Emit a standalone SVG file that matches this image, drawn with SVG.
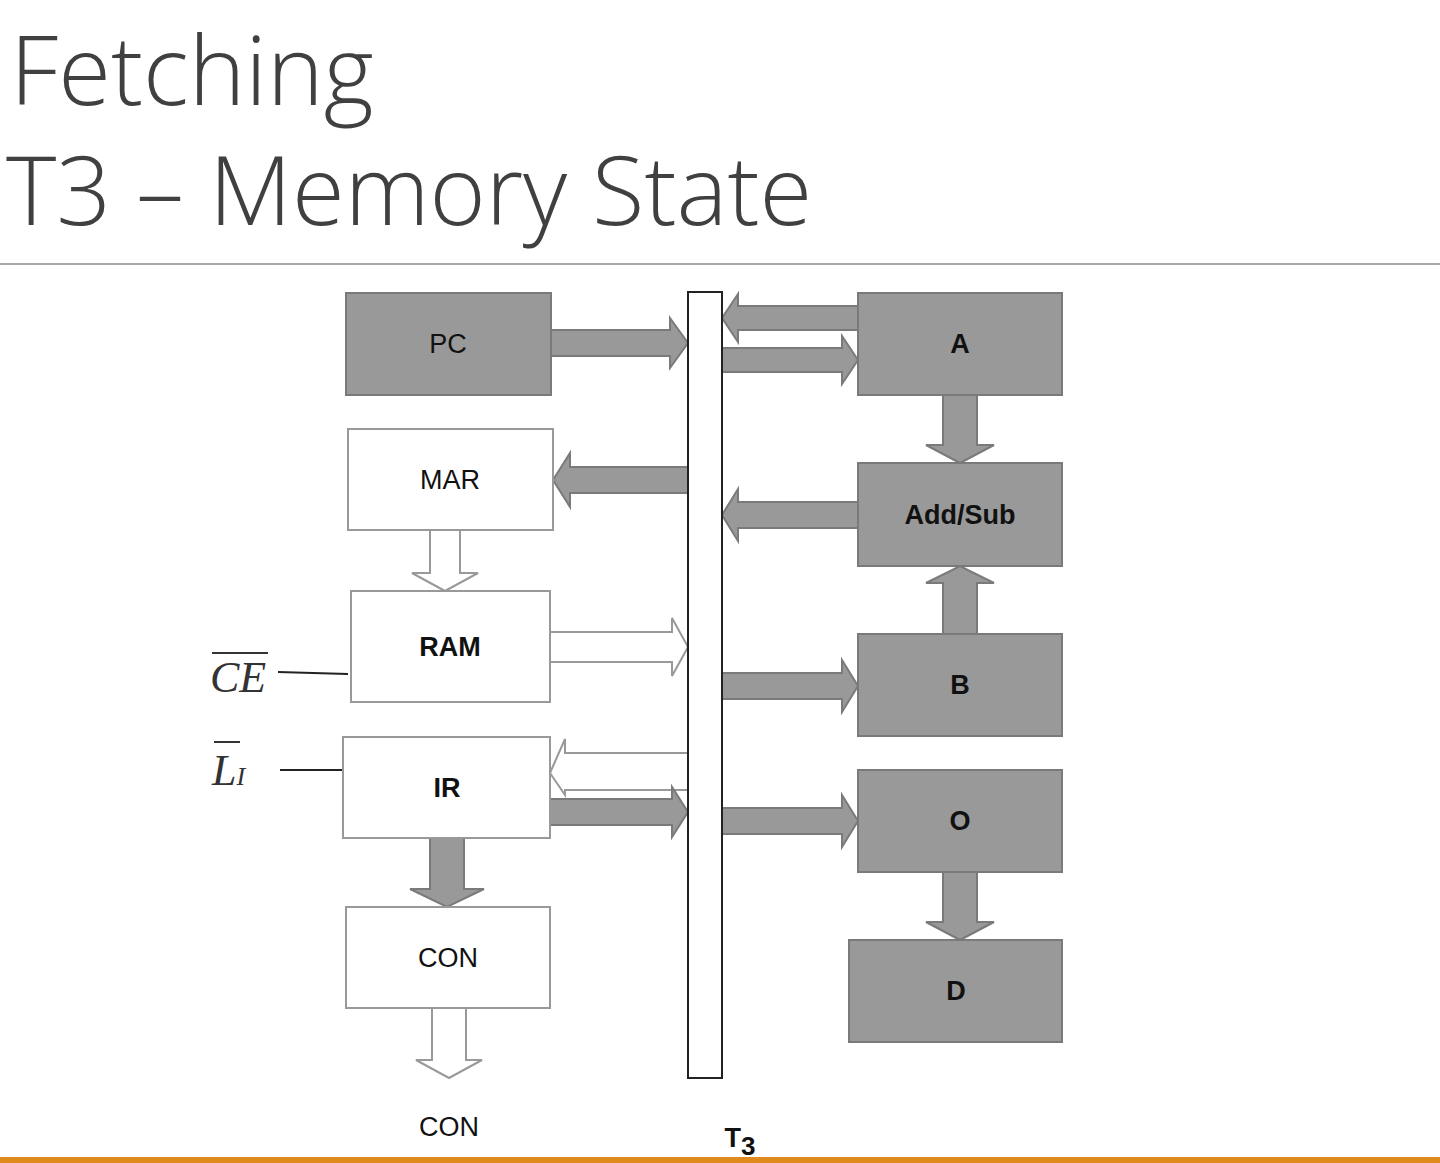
<svg xmlns="http://www.w3.org/2000/svg" width="1440" height="1163" viewBox="0 0 1440 1163">
<style>
.t{font-family:"Open Sans","Noto Sans",sans-serif;font-weight:300;font-size:96px;fill:#404040}
.g{fill:#999;stroke:#7a7a7a;stroke-width:2}
.w{fill:#fff;stroke:#999;stroke-width:2}
.l{font-family:"Liberation Sans",Arial,sans-serif;font-size:27px;text-anchor:middle;fill:#111}
.b{font-weight:bold}
.m{font-family:"Liberation Serif","Times New Roman",serif;font-style:italic;font-size:44px;fill:#333}
</style>
<rect width="1440" height="1163" fill="#fff"/>
<text class="t" x="10" y="105">Fetching</text>
<text class="t" x="6" y="225">T3 – Memory State</text>
<line x1="0" y1="264" x2="1440" y2="264" stroke="#aaa" stroke-width="2"/>
<rect x="0" y="1157" width="1440" height="6" fill="#e08a1e"/>
<g id="connectors">
<path class="g" d="M551,330H670V318L688,343L670,368V356H551Z"/>
<path class="g" d="M858,306H738V294L722,318L738,342V330H858Z"/>
<path class="g" d="M722,348H842V336L858,360L842,384V372H722Z"/>
<path class="g" d="M688,467H570V453L553,480L570,507V493H688Z"/>
<path class="g" d="M858,502H738V489L722,515L738,541V528H858Z"/>
<path class="g" d="M722,673H842V660L858,686L842,712V699H722Z"/>
<path class="g" d="M722,808H842V795L858,821L842,847V834H722Z"/>
<path class="w" d="M550,632H672V618L688,647L672,676V662H550Z"/>
<path class="w" d="M688,753H565V739L550,773L565,795V790H688Z"/>
<path class="g" d="M550,799H672V787L688,812L672,837V825H550Z"/>
<path class="g" d="M943,395V445H926L960,463L994,445H977V395Z"/>
<path class="g" d="M943,634V583H926L960,566L994,583H977V634Z"/>
<path class="g" d="M943,872V922H926L960,940L994,922H977V872Z"/>
<path class="w" d="M430,530V573H412L445,591L478,573H460V530Z"/>
<path class="g" d="M430,838V889H410L447,907L484,889H464V838Z"/>
<path class="w" d="M432,1008V1060H416L449,1078L482,1060H466V1008Z"/>
<line x1="278" y1="672" x2="348" y2="674" stroke="#222" stroke-width="2"/>
<line x1="280" y1="770" x2="348" y2="770" stroke="#222" stroke-width="2"/>
</g>
<g id="bus"><rect x="688" y="292" width="34" height="786" fill="#fff" stroke="#222" stroke-width="2"/>
<text class="l b" x="740" y="1147" font-size="40">T<tspan font-size="26" dy="8">3</tspan></text></g>
<g id="pc"><rect class="g" x="346" y="293" width="205" height="102"/><text class="l" x="448" y="353">PC</text></g>
<g id="mar"><rect class="w" x="348" y="429" width="205" height="101"/><text class="l" x="450" y="489">MAR</text></g>
<g id="ram"><rect class="w" x="351" y="591" width="199" height="111"/><text class="l b" x="450" y="656">RAM</text></g>
<g id="ir"><rect class="w" x="343" y="737" width="207" height="101"/><text class="l b" x="447" y="797">IR</text></g>
<g id="con"><rect class="w" x="346" y="907" width="204" height="101"/><text class="l" x="448" y="967">CON</text></g>
<g id="conout"><text class="l" x="449" y="1136">CON</text></g>
<g id="a"><rect class="g" x="858" y="293" width="204" height="102"/><text class="l b" x="960" y="353">A</text></g>
<g id="addsub"><rect class="g" x="858" y="463" width="204" height="103"/><text class="l b" x="960" y="524">Add/Sub</text></g>
<g id="b"><rect class="g" x="858" y="634" width="204" height="102"/><text class="l b" x="960" y="694">B</text></g>
<g id="o"><rect class="g" x="858" y="770" width="204" height="102"/><text class="l b" x="960" y="830">O</text></g>
<g id="d"><rect class="g" x="849" y="940" width="213" height="102"/><text class="l b" x="956" y="1000">D</text></g>
<g id="ce"><text class="m" x="210" y="692">CE</text><line x1="212" y1="653" x2="268" y2="653" stroke="#333" stroke-width="2"/></g>
<g id="li"><text class="m" x="212" y="785">L<tspan font-size="26">I</tspan></text><line x1="214" y1="742" x2="240" y2="742" stroke="#333" stroke-width="2"/></g>
</svg>
